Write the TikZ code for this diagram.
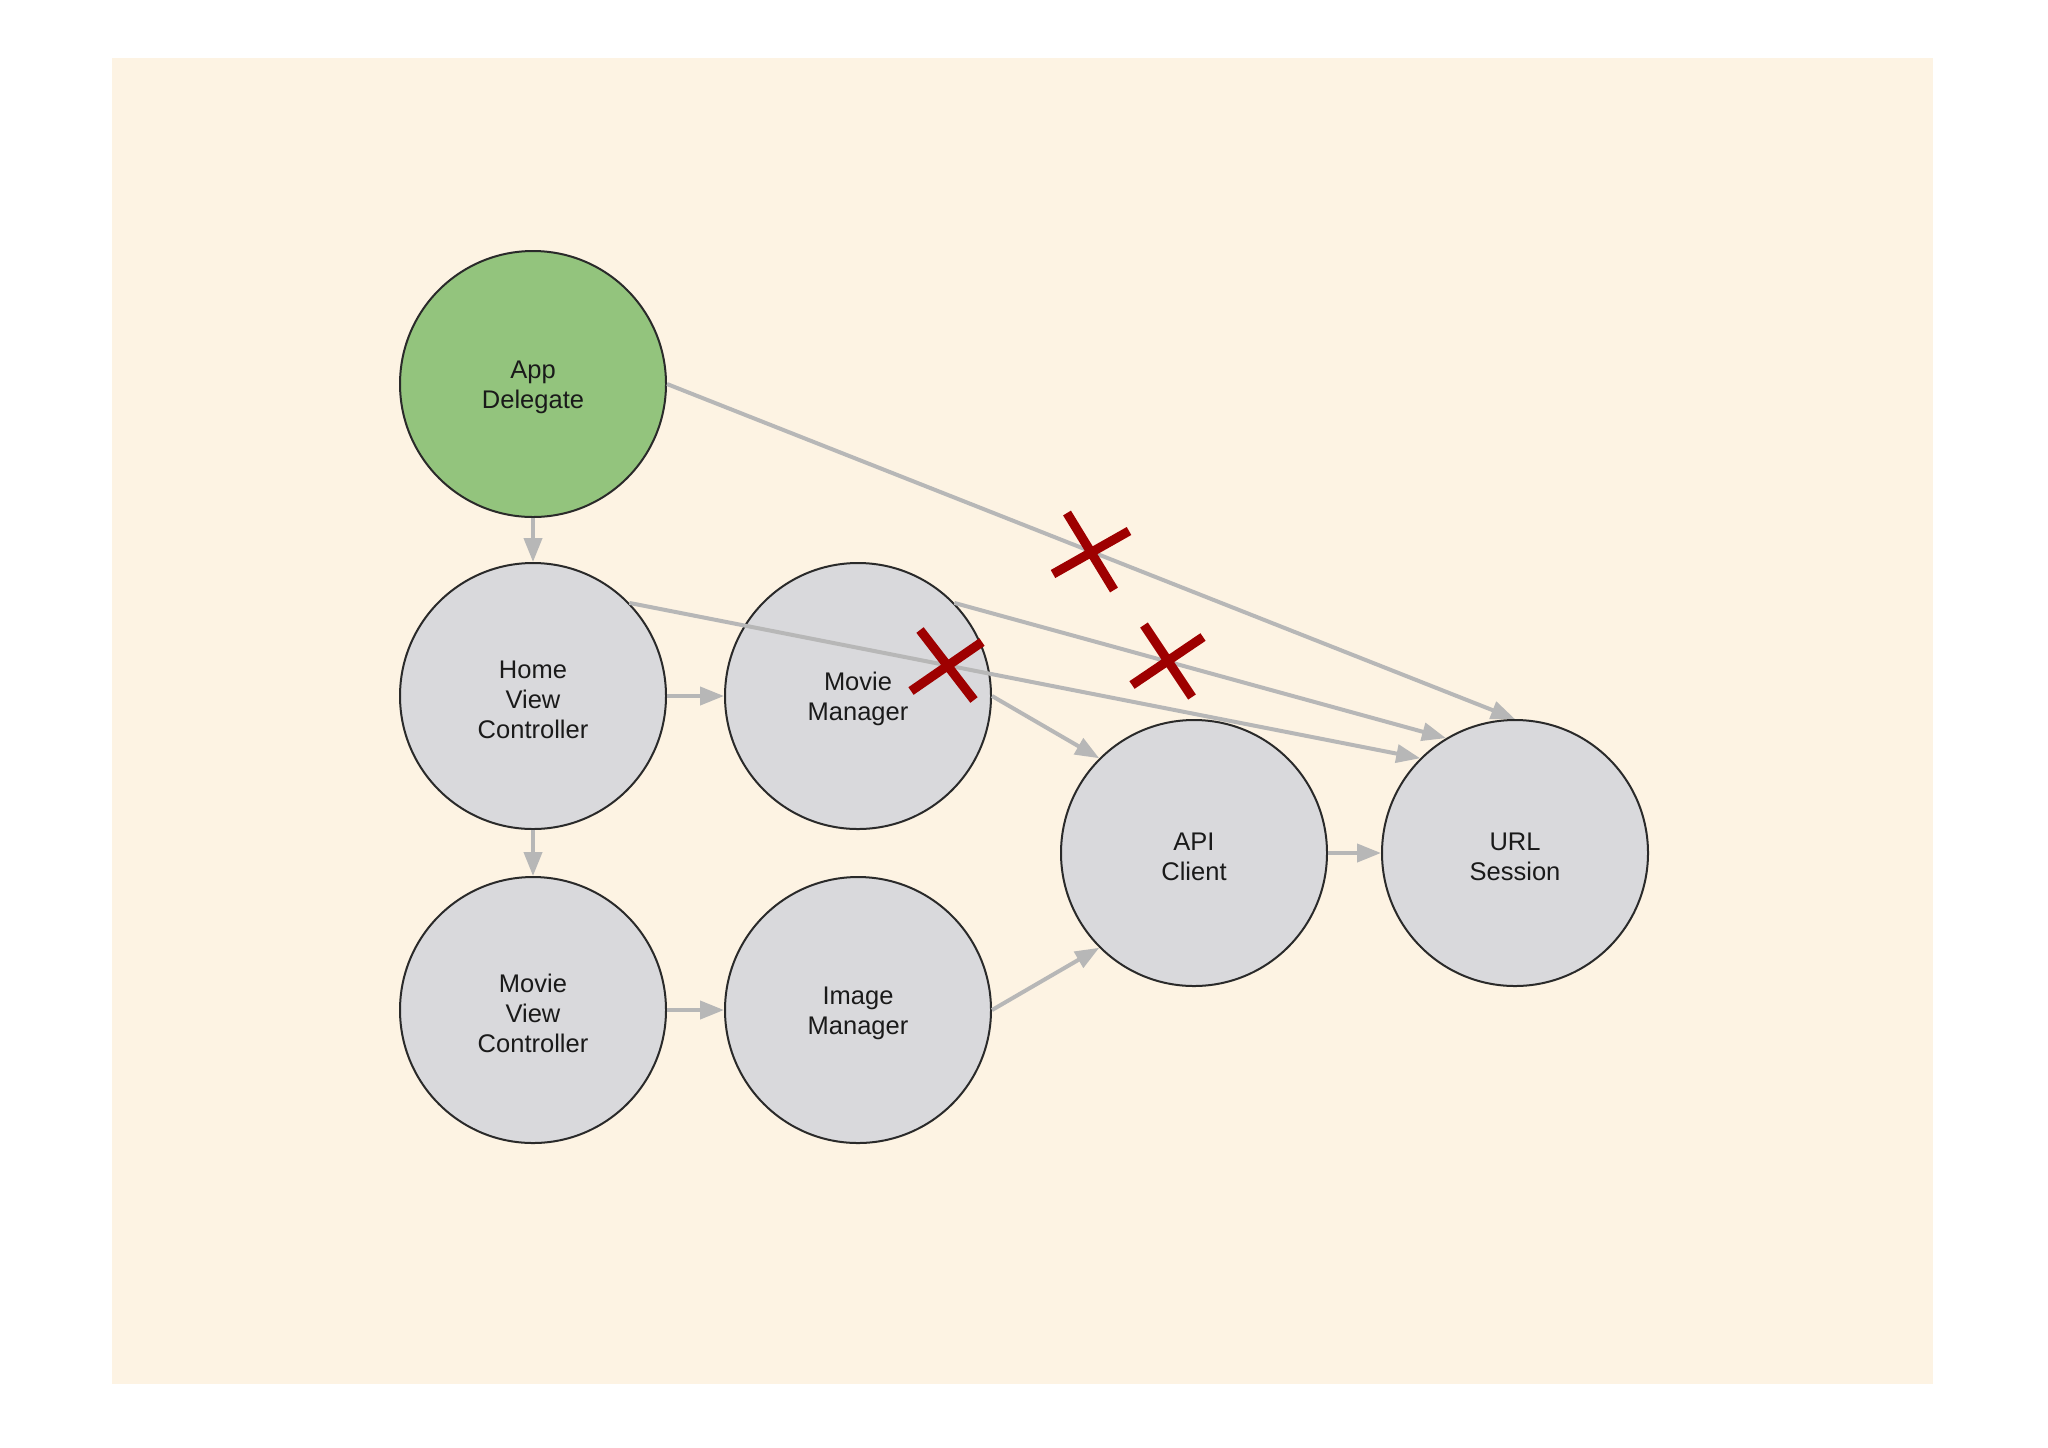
\documentclass[tikz,border=0pt]{standalone}
\usepackage{fontspec}
\setmainfont{Liberation Sans}
\usetikzlibrary{arrows.meta}
\definecolor{bgc}{HTML}{FDF3E3}
\definecolor{greenc}{HTML}{93C47D}
\definecolor{greyc}{HTML}{D9D9DC}
\definecolor{edgec}{HTML}{B7B7B7}
\definecolor{redc}{HTML}{9E0000}
\definecolor{txtc}{HTML}{1A1A1A}
\definecolor{bordc}{HTML}{2A2A2A}
\newcommand{\topstrt}{\rule{0pt}{12.3pt}}
\tikzset{
  circnode/.style={circle, draw=bordc, line width=1pt, fill=greyc, minimum size=133pt, inner sep=0pt,
    align=center, text=txtc, font=\fontsize{12.75}{15}\selectfont},
  greennode/.style={circnode, fill=greenc},
  conn/.style={draw=edgec, line width=2pt, -{Triangle[length=12pt,width=9pt]}},
  xmark/.style={draw=redc, line width=4.6pt}
}
\begin{document}
\begin{tikzpicture}[x=0.5pt,y=-0.5pt]
\useasboundingbox (0,0) rectangle (2048,1447);
\fill[white] (0,0) rectangle (2048,1447);
\fill[bgc] (112,58) rectangle (1933,1384);
% nodes
\node[greennode] (ad) at (533,384) {\topstrt App\\Delegate};
\node[circnode] (hvc) at (533,696) {\topstrt Home\\View\\Controller};
\node[circnode] (mvc) at (533,1010) {\topstrt Movie\\View\\Controller};
\node[circnode] (mm) at (858,696) {\topstrt Movie\\Manager};
\node[circnode] (im) at (858,1010) {\topstrt Image\\Manager};
\node[circnode] (api) at (1194,853) {\topstrt API\\Client};
\node[circnode] (url) at (1515,853) {\topstrt URL\\Session};
% connectors
\draw[conn] (ad.south) -- (hvc.north);
\draw[conn] (hvc.south) -- (mvc.north);
\draw[conn] (hvc.east) -- (mm.west);
\draw[conn] (mvc.east) -- (im.west);
\draw[conn] (api.east) -- (url.west);
\draw[conn] (mm.east) -- (api.135);
\draw[conn] (im.east) -- (api.225);
\draw[conn] (ad.east) -- (url.north);
\draw[conn] (mm.44) -- (url.121);
\draw[conn] (hvc.44) -- (url.135);
% red crosses
\draw[xmark] (1067,513) -- (1114,590) (1053,574) -- (1129,531);
\draw[xmark] (1144,625) -- (1192,697) (1132,685) -- (1203,637);
\draw[xmark] (920,630) -- (974,700) (911,691) -- (982,642);
\end{tikzpicture}
\end{document}
